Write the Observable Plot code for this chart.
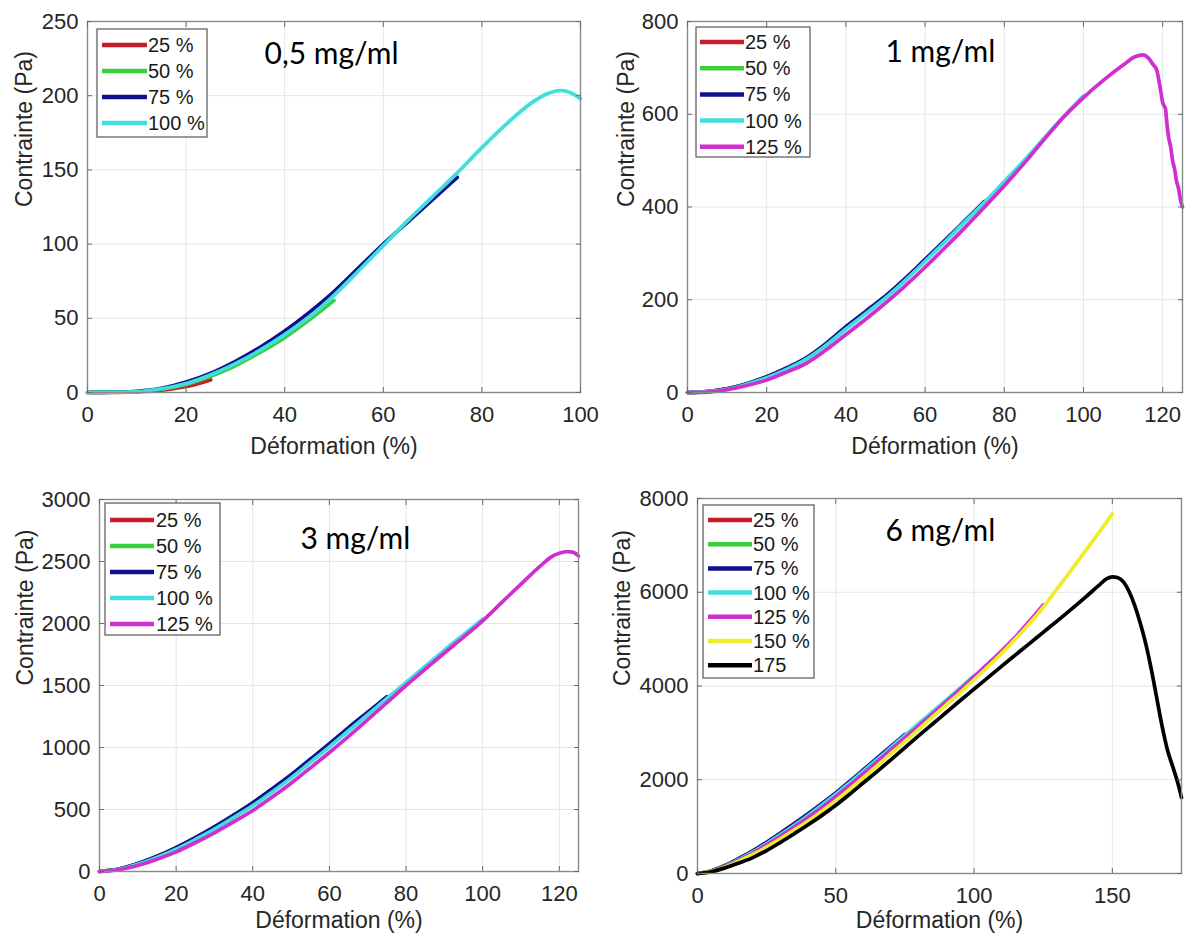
<!DOCTYPE html>
<html><head><meta charset="utf-8">
<script src="https://cdn.jsdelivr.net/npm/d3@7"></script>
<script src="https://cdn.jsdelivr.net/npm/@observablehq/plot@0.6"></script>
<style>
body{margin:0;background:#fff;}
#wrap{position:relative;width:1185px;height:940px;overflow:hidden;background:#fff;}
.panel{position:absolute;}
.panel svg{overflow:visible;}
</style></head><body><div id="wrap"></div>
<script>
// ---------- shared labels / colours ----------
const legendLabels = ["25 %","50 %","75 %","100 %","125 %","150 %","175"];
const seriesColors = ["#c41e2a","#3ccf3c","#10108c","#40dede","#d02fd0","#eded2c","#000000"];
const xAxisLabel = "Déformation (%)";
const yAxisLabel = "Contrainte (Pa)";
const titles = ["0,5 mg/ml","1 mg/ml","3 mg/ml","6 mg/ml"];

// ---------- Panel 1 : 0,5 mg/ml ----------
const p1XTicks = [0,20,40,60,80,100];
const p1YTicks = [0,50,100,150,200,250];
const p1_25 = [[0,0],[5,0.1],[10,0.4],[15,1.5],[20,4],[25,8.5]];
const p1_50 = [[0,0],[5,0.2],[10,0.6],[15,2.2],[20,5.5],[25,11],[30,18],[35,27],[40,37],[45,49],[50,62]];
const p1_75 = [[0,0],[5,0.2],[10,0.8],[15,2.8],[20,7],[25,13],[30,21],[35,30.5],[40,41.5],[45,54],[50,68],[55,84],[60,100],[65,115],[70,130],[75,145]];
const p1_100 = [[0,0],[5,0.2],[10,0.6],[15,2.5],[20,6],[25,12],[30,19.5],[35,28.5],[40,39],[45,51],[50,65.5],[55,82],[60,99],[65,116],[70,132],[75,148],[80,165],[85,181],[90,195],[93,201],[96,203.5],[98,202],[100,198]];

// ---------- Panel 2 : 1 mg/ml ----------
const p2XTicks = [0,20,40,60,80,100,120];
const p2YTicks = [0,200,400,600,800];
const p2_25 = [[0,0],[5,2],[10,8],[15,19],[20,33],[25,52]];
const p2_50 = [[0,0],[5,2],[10,8],[15,19],[20,34],[25,52],[30,74],[35,104],[40,140],[45,173],[50,206]];
const p2_75 = [[0,0],[5,2],[10,8],[15,19],[20,34],[25,53],[30,75],[35,106],[40,142],[45,175],[50,208],[55,246],[60,287],[65,328],[70,370],[75,412]];
const p2_100 = [[0,0],[5,2],[10,7],[15,18],[20,32],[25,50],[30,72],[35,102],[40,137],[45,170],[50,204],[55,242],[60,283],[65,325],[70,368],[75,410],[80,455],[85,500],[90,548],[95,595],[100,640]];
const p2_125 = [[0,0],[5,1],[10,6],[15,15],[20,27],[25,44],[30,63],[35,92],[40,125],[45,158],[50,193],[55,230],[60,270],[65,312],[70,355],[75,400],[80,446],[85,494],[90,545],[95,594],[100,636],[105,673],[110,706],[113,724],[115,728],[116.5,720],[117.5,708],[118.5,695],[119,675],[119.5,650],[120,625],[120.7,612],[121,585],[121.5,550],[122,530],[122.5,500],[123,482],[123.5,455],[124,440],[124.5,415],[125,400]];

// ---------- Panel 3 : 3 mg/ml ----------
const p3XTicks = [0,20,40,60,80,100,120];
const p3YTicks = [0,500,1000,1500,2000,2500,3000];
const p3_25 = [[0,0],[5,20],[10,62],[15,120],[20,190],[25,270]];
const p3_50 = [[0,0],[5,20],[10,63],[15,122],[20,192],[25,272],[30,360],[35,455],[40,552],[45,660],[50,775]];
const p3_75 = [[0,0],[5,20],[10,64],[15,123],[20,193],[25,273],[30,360],[35,455],[40,555],[45,665],[50,780],[55,905],[60,1030],[65,1160],[70,1285],[75,1410]];
const p3_100 = [[0,0],[5,18],[10,58],[15,114],[20,180],[25,258],[30,342],[35,435],[40,532],[45,640],[50,755],[55,880],[60,1005],[65,1135],[70,1265],[75,1395],[80,1525],[85,1655],[90,1785],[95,1910],[100,2035]];
const p3_125 = [[0,0],[5,14],[10,48],[15,98],[20,158],[25,232],[30,312],[35,400],[40,492],[45,598],[50,712],[55,835],[60,960],[65,1090],[70,1225],[75,1362],[80,1500],[85,1632],[90,1762],[95,1890],[100,2022],[105,2170],[110,2318],[115,2462],[118,2540],[120,2566],[122,2580],[123.5,2576],[125,2545]];

// ---------- Panel 4 : 6 mg/ml ----------
const p4XTicks = [0,50,100,150];
const p4YTicks = [0,2000,4000,6000,8000];
const p4_25 = [[0,0],[5,55],[10,165],[15,315],[20,480],[25,660]];
const p4_50 = [[0,0],[5,55],[10,168],[15,318],[20,482],[25,665],[30,860],[35,1060],[40,1270],[45,1490],[50,1715]];
const p4_75 = [[0,0],[5,58],[10,170],[15,320],[20,485],[25,668],[30,865],[35,1065],[40,1275],[45,1495],[50,1720],[55,1965],[60,2215],[65,2465],[70,2715],[75,2965]];
const p4_100 = [[0,0],[5,52],[10,158],[15,300],[20,460],[25,640],[30,830],[35,1030],[40,1240],[45,1460],[50,1690],[55,1935],[60,2185],[65,2435],[70,2690],[75,2945],[80,3200],[85,3450],[90,3705],[95,3960],[100,4220]];
const p4_125 = [[0,0],[5,48],[10,148],[15,285],[20,435],[25,610],[30,795],[35,990],[40,1195],[45,1410],[50,1640],[55,1880],[60,2130],[65,2385],[70,2640],[75,2895],[80,3150],[85,3405],[90,3665],[95,3930],[100,4200],[105,4470],[110,4750],[115,5050],[120,5380],[125,5730]];
const p4_150 = [[0,0],[5,45],[10,138],[15,265],[20,405],[25,565],[30,740],[35,925],[40,1120],[45,1330],[50,1555],[55,1795],[60,2045],[65,2300],[70,2560],[75,2820],[80,3080],[85,3340],[90,3600],[95,3860],[100,4130],[105,4410],[110,4700],[115,5010],[120,5330],[125,5680],[130,6070],[135,6460],[140,6860],[145,7260],[150,7670]];
const p4_175 = [[0,0],[5,38],[10,120],[15,225],[20,340],[25,490],[30,665],[35,850],[40,1040],[45,1240],[50,1455],[55,1690],[60,1935],[65,2180],[70,2430],[75,2685],[80,2940],[85,3190],[90,3440],[95,3690],[100,3935],[105,4180],[110,4425],[115,4665],[120,4905],[125,5145],[130,5385],[135,5630],[140,5880],[145,6140],[148,6290],[150,6330],[152,6310],[154,6220],[156,6020],[158,5730],[160,5360],[162,4920],[164,4380],[166,3760],[168,3140],[170,2620],[172,2250],[174,1860],[175,1620]];

// ---------- layout (pixels) ----------
const panels = [
  {svg:[0,0,590,470], frame:[87,21,580,392], xDomain:[0,100], xTicks:p1XTicks, yDomain:[0,250], yTicks:p1YTicks,
   series:[p1_25,p1_50,p1_75,p1_100], title:titles[0], titleAt:[264,63],
   legend:{box:[97,29,110,108], row0:45, step:26, line:[102,147], textX:148}, yLabelX:24, xLabelY:446},
  {svg:[590,0,595,470], frame:[687,21,1182,392], xDomain:[0,125], xTicks:p2XTicks, yDomain:[0,800], yTicks:p2YTicks,
   series:[p2_25,p2_50,p2_75,p2_100,p2_125], title:titles[1], titleAt:[885,61],
   legend:{box:[696,27,114,130], row0:42, step:26.2, line:[700,744], textX:745}, yLabelX:626, xLabelY:446},
  {svg:[0,470,590,470], frame:[99,499,578,871], xDomain:[0,125], xTicks:p3XTicks, yDomain:[0,3000], yTicks:p3YTicks,
   series:[p3_25,p3_50,p3_75,p3_100,p3_125], title:titles[2], titleAt:[300,548],
   legend:{box:[105,503,115,132], row0:520, step:26, line:[110,154], textX:156}, yLabelX:25, xLabelY:920},
  {svg:[590,470,595,470], frame:[697,498,1181,873], xDomain:[0,175], xTicks:p4XTicks, yDomain:[0,8000], yTicks:p4YTicks,
   series:[p4_25,p4_50,p4_75,p4_100,p4_125,p4_150,p4_175], title:titles[3], titleAt:[885,540],
   legend:{box:[703,505,111,173], row0:520, step:24.2, line:[708,752], textX:753}, yLabelX:622, xLabelY:920}
];

const wrap = document.getElementById("wrap");
const tickFont = "'Liberation Sans', Arial, Helvetica, sans-serif";
const plainFormat = d => String(d);

panels.forEach(p => {
  const [sx, sy, sw, sh] = p.svg;
  const [fx0, fy0, fx1, fy1] = p.frame;
  const ml = fx0 - sx, mt = fy0 - sy, mr = sx + sw - fx1, mb = sy + sh - fy1;
  const lineMarks = p.series.map((s, i) => Plot.line(s, {
    x: d => d[0], y: d => d[1], stroke: seriesColors[i], strokeWidth: 3.7, curve: "monotone-x"
  }));
  const chart = Plot.plot({
    width: sw, height: sh,
    marginLeft: ml, marginTop: mt, marginRight: mr, marginBottom: mb,
    x: {domain: p.xDomain},
    y: {domain: p.yDomain},
    style: {fontFamily: tickFont, fontSize: "22px", color: "#262626", background: "transparent", overflow: "visible"},
    marks: [
      Plot.gridX(p.xTicks, {stroke: "#e6e6e6", strokeOpacity: 1}),
      Plot.gridY(p.yTicks, {stroke: "#e6e6e6", strokeOpacity: 1}),
      ...lineMarks,
      Plot.frame({stroke: "#8a8a8a", strokeWidth: 1.4}),
      Plot.axisX(p.xTicks, {anchor: "bottom", tickSize: 0, tickPadding: 14, label: null, fill: "#262626", tickFormat: plainFormat}),
      Plot.axisY(p.yTicks, {anchor: "left", tickSize: 0, tickPadding: 9, label: null, fill: "#262626", tickFormat: plainFormat}),
      Plot.axisX(p.xTicks, {anchor: "bottom", tickSize: -5, tickFormat: () => "", label: null, stroke: "#6a6a6a"}),
      Plot.axisX(p.xTicks, {anchor: "top", tickSize: -5, tickFormat: () => "", label: null, stroke: "#6a6a6a"}),
      Plot.axisY(p.yTicks, {anchor: "left", tickSize: -5, tickFormat: () => "", label: null, stroke: "#6a6a6a"}),
      Plot.axisY(p.yTicks, {anchor: "right", tickSize: -5, tickFormat: () => "", label: null, stroke: "#6a6a6a"}),
      Plot.text([xAxisLabel], {text: d => d, frameAnchor: "bottom", dy: p.xLabelY - fy1, fontSize: 23, fill: "#262626", lineAnchor: "middle"}),
      Plot.text([yAxisLabel], {text: d => d, frameAnchor: "left", rotate: -90, dx: p.yLabelX - fx0, fontSize: 23, fill: "#262626", lineAnchor: "middle"}),
      Plot.text([p.title], {text: d => d, frameAnchor: "top-left", dx: p.titleAt[0] - fx0, dy: p.titleAt[1] - fy0,
        textAnchor: "start", lineAnchor: "bottom", fontSize: 30, fontFamily: "Lato, 'Open Sans', sans-serif", fill: "#000"})
    ]
  });
  // legend (box + line samples + labels)
  const L = p.legend;
  const g = d3.select(chart).append("g").attr("class", "legend");
  g.append("rect").attr("x", L.box[0] - sx).attr("y", L.box[1] - sy).attr("width", L.box[2]).attr("height", L.box[3])
    .attr("fill", "#fff").attr("stroke", "#555").attr("stroke-width", 1.2);
  p.series.forEach((s, i) => {
    const yy = L.row0 - sy + i * L.step;
    g.append("line").attr("x1", L.line[0] - sx).attr("x2", L.line[1] - sx).attr("y1", yy).attr("y2", yy)
      .attr("stroke", seriesColors[i]).attr("stroke-width", 4.5);
    g.append("text").attr("x", L.textX - sx).attr("y", yy).attr("dy", "0.35em")
      .attr("text-anchor", "start")
      .attr("font-size", 20).attr("font-family", tickFont).attr("fill", "#1a1a1a").text(legendLabels[i]);
  });
  const div = document.createElement("div");
  div.className = "panel";
  div.style.left = sx + "px"; div.style.top = sy + "px";
  div.style.width = sw + "px"; div.style.height = sh + "px";
  div.appendChild(chart);
  wrap.appendChild(div);
});
</script>
</body></html>
